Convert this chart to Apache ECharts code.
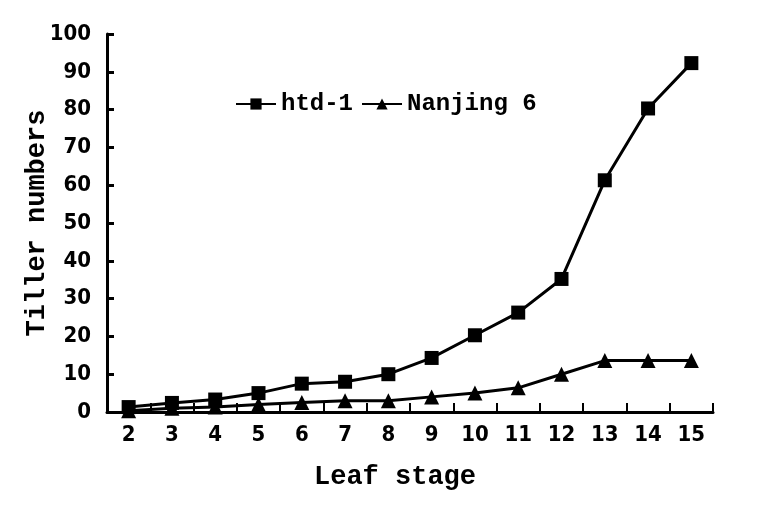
<!DOCTYPE html>
<html>
<head>
<meta charset="utf-8">
<script src="https://cdn.jsdelivr.net/npm/echarts@6/dist/echarts.min.js"></script>
<style>
  html, body { margin: 0; padding: 0; background: #fff; }
  #chart { width: 764px; height: 515px; }
</style>
</head>
<body>
<div id="chart"></div>
<script>
// leaf stages on x
var leafStages = ['2', '3', '4', '5', '6', '7', '8', '9', '10', '11', '12', '13', '14', '15'];
// tiller numbers
var htd1 = [1.3, 2.4, 3.3, 5, 7.5, 8, 10, 14.3, 20.3, 26.3, 35.2, 61.3, 80.3, 92.3];
var nanjing6 = [0.3, 1, 1.3, 2, 2.5, 3, 3, 4, 5, 6.4, 10, 13.6, 13.6, 13.6];
var yTicks = [0, 10, 20, 30, 40, 50, 60, 70, 80, 90, 100];

var numFont = '"DejaVu Sans Condensed", "DejaVu Sans", sans-serif';
var monoFont = '"Liberation Mono", monospace';

var myChart = echarts.init(document.getElementById('chart'));
myChart.setOption({
    animation: false,
    backgroundColor: '#fff',
    grid: {left: 107, right: 51, top: 34, bottom: 103},
    legend: {
        left: 230,
        top: 87,
        itemWidth: 40,
        itemHeight: 14,
        itemGap: 8,
        textStyle: {fontFamily: monoFont, fontWeight: 'bold', fontSize: 24, color: '#000'},
        data: ['htd-1', 'Nanjing 6']
    },
    xAxis: {
        type: 'category',
        data: leafStages,
        boundaryGap: true,
        name: 'Leaf stage',
        nameLocation: 'middle',
        nameGap: 52,
        nameTextStyle: {fontFamily: monoFont, fontWeight: 'bold', fontSize: 27, color: '#000', padding: [0, 30, 0, 0]},
        axisLine: {lineStyle: {color: '#000', width: 3}},
        axisTick: {show: true, inside: true, length: 9, lineStyle: {color: '#000', width: 2}},
        axisLabel: {fontFamily: numFont, fontWeight: 'bold', fontSize: 22, color: '#000', margin: 12},
        splitLine: {show: false}
    },
    yAxis: {
        type: 'value',
        min: yTicks[0],
        max: yTicks[yTicks.length - 1],
        interval: 10,
        name: 'Tiller numbers',
        nameLocation: 'middle',
        nameGap: 56,
        nameMoveOverlap: false,
        nameTextStyle: {fontFamily: monoFont, fontWeight: 'bold', fontSize: 27, color: '#000'},
        axisLine: {show: true, lineStyle: {color: '#000', width: 3}},
        axisTick: {show: true, inside: true, length: 7, lineStyle: {color: '#000', width: 3}},
        axisLabel: {fontFamily: numFont, fontWeight: 'bold', fontSize: 22, color: '#000', margin: 16},
        splitLine: {show: false}
    },
    series: [
        {
            name: 'htd-1',
            type: 'line',
            data: htd1,
            symbol: 'rect',
            symbolSize: 14,
            itemStyle: {color: '#000'},
            lineStyle: {color: '#000', width: 3}
        },
        {
            name: 'Nanjing 6',
            type: 'line',
            data: nanjing6,
            symbol: 'triangle',
            symbolSize: 15,
            itemStyle: {color: '#000'},
            lineStyle: {color: '#000', width: 3}
        }
    ]
});
</script>
</body>
</html>
